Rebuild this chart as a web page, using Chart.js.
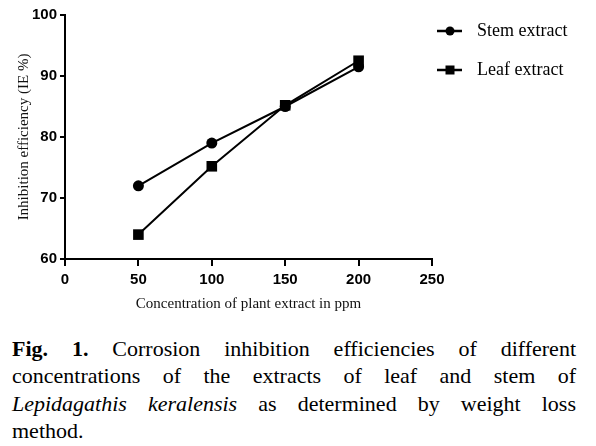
<!DOCTYPE html>
<html>
<head>
<meta charset="utf-8">
<script src="https://cdn.jsdelivr.net/npm/chart.js@4.4.0/dist/chart.umd.min.js"></script>
<style>
  body { margin: 0; background: #fff; width: 596px; height: 446px; overflow: hidden; position: relative; }
  #chart { position: absolute; left: 0; top: 0; }
  .caption { position: absolute; left: 12px; top: 335px; width: 564px; font-family: "Liberation Serif", "Times New Roman", Times, "DejaVu Serif", serif; font-size: 22px; line-height: 27.3px; color: #000; }
  .caption .jl { text-align: justify; text-align-last: justify; }
</style>
</head>
<body>
<canvas id="chart" width="596" height="318"></canvas>
<div class="caption">
  <div class="jl"><b>Fig. 1.</b> Corrosion inhibition efficiencies of different</div>
  <div class="jl">concentrations of the extracts of leaf and stem of</div>
  <div class="jl"><i>Lepidagathis keralensis</i> as determined by weight loss</div>
  <div>method.</div>
</div>
<script>
// data
const concentrations = [50, 100, 150, 200];
const stemIE = [72, 79, 85, 91.5];
const leafIE = [64, 75.2, 85.2, 92.5];
const seriesLabels = ["Stem extract", "Leaf extract"];
const xTitle = "Concentration of plant extract in ppm";
const yTitle = "Inhibition efficiency (IE %)";

const toPoints = (ys) => concentrations.map((x, i) => ({ x: x, y: ys[i] }));

const serif = "'Liberation Serif', 'Times New Roman', Times, 'DejaVu Serif', serif";
const tickFont = { family: "'Liberation Sans', Arial, sans-serif", weight: "bold", size: 15 };
const titleFont = { family: serif, size: 15 };

// legend with a short line through the marker, like the original
const lineLegend = {
  id: "lineLegend",
  afterDraw(chart) {
    const c = chart.ctx;
    chart.data.datasets.forEach((ds, i) => {
      const y = 31 + i * 39;
      c.save();
      c.strokeStyle = "#000";
      c.fillStyle = "#000";
      c.lineWidth = 2.5;
      c.beginPath();
      c.moveTo(437, y);
      c.lineTo(462, y);
      c.stroke();
      if (ds.pointStyle === "rect") {
        c.fillRect(450 - 4.5, y - 4.5, 9, 9);
      } else {
        c.beginPath();
        c.arc(450, y, 4.5, 0, Math.PI * 2);
        c.fill();
      }
      c.font = "18px " + serif;
      c.textBaseline = "middle";
      c.fillText(ds.label, 477, y);
      c.restore();
    });
  },
};

const ctx = document.getElementById("chart").getContext("2d");
new Chart(ctx, {
  type: "line",
  data: {
    datasets: [
      {
        label: seriesLabels[0],
        data: toPoints(stemIE),
        borderColor: "#000",
        backgroundColor: "#000",
        borderWidth: 2,
        pointStyle: "circle",
        pointRadius: 5.5,
        pointBorderWidth: 0,
        order: 1,
      },
      {
        label: seriesLabels[1],
        data: toPoints(leafIE),
        borderColor: "#000",
        backgroundColor: "#000",
        borderWidth: 2,
        pointStyle: "rect",
        pointRadius: 7.5,
        pointBorderWidth: 0,
        order: 0,
      },
    ],
  },
  options: {
    responsive: false,
    animation: false,
    layout: { padding: { top: 15, right: 164, left: 0, bottom: 0 } },
    plugins: { legend: { display: false }, tooltip: { enabled: false } },
    scales: {
      x: {
        type: "linear",
        min: 0,
        max: 250,
        ticks: { stepSize: 50, color: "#000", font: tickFont, padding: 5 },
        grid: { drawOnChartArea: false, drawTicks: true, tickLength: 7, color: "#000", lineWidth: 2 },
        border: { color: "#000", width: 2 },
        title: { display: true, text: xTitle, color: "#111", font: titleFont, padding: { top: 0, bottom: 5 } },
        afterFit(scale) {
          scale.height = 59;
        },
      },
      y: {
        min: 60,
        max: 100,
        ticks: { stepSize: 10, color: "#000", font: tickFont, padding: 3 },
        grid: { drawOnChartArea: false, drawTicks: true, tickLength: 5, color: "#000", lineWidth: 2 },
        border: { color: "#000", width: 2 },
        title: { display: true, text: yTitle, color: "#111", font: titleFont, padding: { top: 15, bottom: 0 } },
        afterFit(scale) {
          scale.width = 65;
        },
      },
    },
  },
  plugins: [lineLegend],
});
</script>
</body>
</html>
